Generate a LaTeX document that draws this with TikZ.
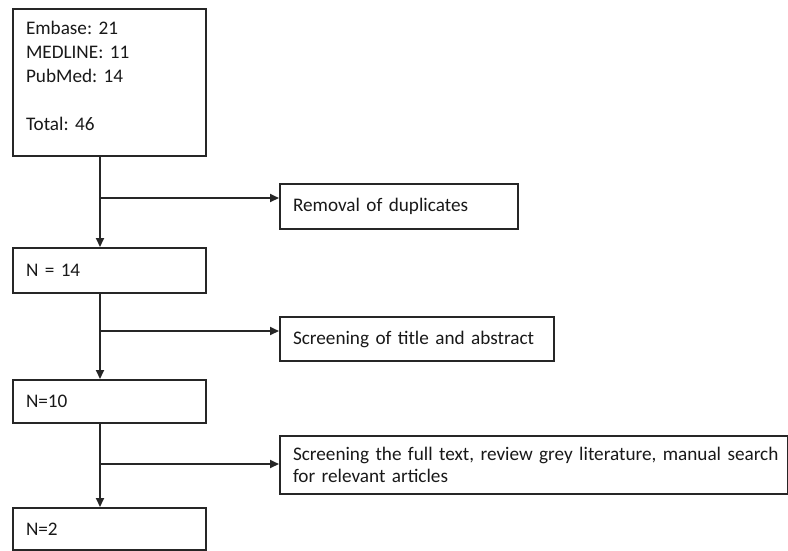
\documentclass[tikz,border=0pt]{standalone}
\usepackage{fontspec}
\setmainfont{Carlito}[WordSpace=0.9]
\usetikzlibrary{arrows.meta}
\frenchspacing
\begin{document}
\begin{tikzpicture}[x=1pt,y=-1pt,
  box/.style={draw=black!85, line width=2pt, rectangle, anchor=north west,
    inner xsep=13pt, inner ysep=0pt, align=left, text=black!90,
    font=\fontsize{19.2}{22}\selectfont},
  arr/.style={draw=black!85, line width=2pt, -{Triangle[length=9pt,width=8pt]}},
  ln/.style={draw=black!85, line width=2pt}]
\useasboundingbox (0,0) rectangle (788,550);
\fill[white] (0,0) rectangle (788,550);
% boxes
\node[box, minimum width=193pt, minimum height=147pt, text width=167pt,
      font=\fontsize{19.2}{24}\selectfont] (src) at (12,8)
  {Embase: 21\\MEDLINE: 11\\PubMed: 14\\[24pt]Total: 46\\[-10pt]\mbox{}};
\node[box, minimum width=193pt, minimum height=45pt, text width=167pt] (n14) at (12,247) {N = 14};
\node[box, minimum width=193pt, minimum height=43pt, text width=167pt] (n10) at (12,379) {N=10};
\node[box, minimum width=193pt, minimum height=42pt, text width=167pt] (n2) at (12,507) {N=2};
\node[box, minimum width=238pt, minimum height=45pt, text width=212pt] (rem) at (279,183) {Removal of duplicates};
\node[box, minimum width=274pt, minimum height=44pt, text width=248pt] (scr) at (279,316) {Screening of title and abstract};
\node[box, minimum width=508pt, minimum height=58pt, text width=482pt] (full) at (279,435)
  {\mbox{Screening the full text, review grey literature, manual search}\\for relevant articles};
% trunk
\coordinate (tx) at (100,0);
\draw[arr] (src.south -| tx) -- (n14.north -| tx);
\draw[arr] (n14.south -| tx) -- (n10.north -| tx);
\draw[arr] (n10.south -| tx) -- (n2.north -| tx);
% branches
\coordinate (b1) at (100,198);
\coordinate (b2) at (100,331);
\coordinate (b3) at (100,464);
\draw[arr] (b1) -- (rem.west |- b1);
\draw[arr] (b2) -- (scr.west |- b2);
\draw[arr] (b3) -- (full.west |- b3);
\end{tikzpicture}
\end{document}
